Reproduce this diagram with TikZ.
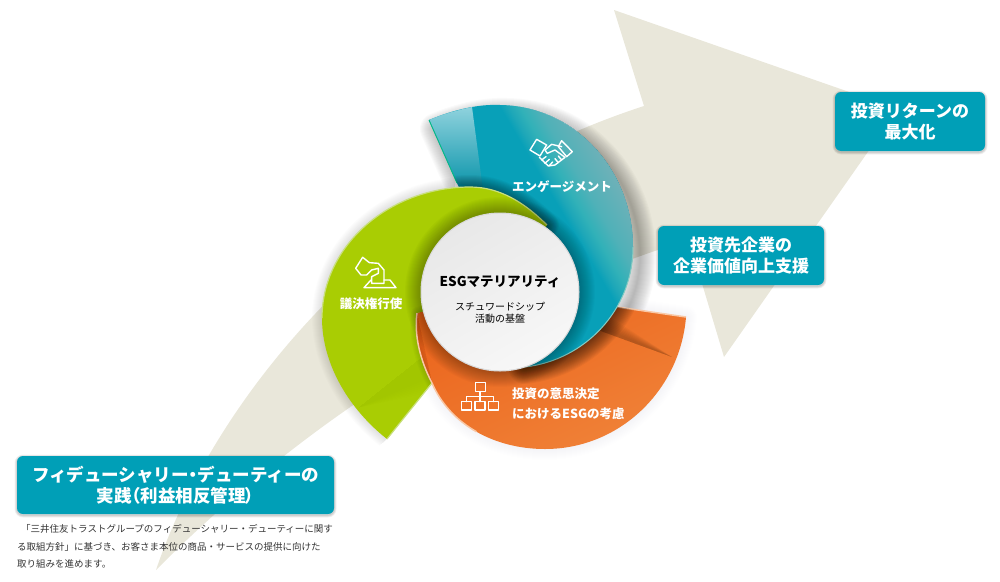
\documentclass[tikz,border=0pt]{standalone}
\usepackage{fontspec}
\setmainfont{Noto Sans CJK JP}
\definecolor{beige}{HTML}{E9E7DA}
\definecolor{boxteal}{HTML}{009FB7}
\definecolor{tealdark}{HTML}{08A0B8}
\definecolor{teallight}{HTML}{8FD2DD}
\definecolor{tealglow}{HTML}{B4E3EA}
\definecolor{greenmain}{HTML}{A9CD03}
\definecolor{greenrim}{HTML}{C9DF7E}
\definecolor{orangemain}{HTML}{EB641C}
\definecolor{orangelight}{HTML}{F08238}
\definecolor{orangerim}{HTML}{F9C8A6}
\definecolor{tealrim}{HTML}{86CBC2}
\definecolor{bodytext}{HTML}{333333}
\def\arrowpath{(614,10) -- (898,109) -- (724,357) -- (689,240) .. controls (540,285) and (340,385) .. (156,570) .. controls (210,410) and (370,195) .. (644,106) -- cycle}
\def\tealpath{(429,120) .. controls (455,109) and (480,104) .. (500,105) .. controls (575,106) and (633,170) .. (633,247) .. controls (633,310) and (585,360) .. (525,367) -- (500,292) -- (465,200) -- (457,183) -- cycle}
\def\greenpath{(547,225) .. controls (525,203) and (500,187) .. (470,187) .. controls (390,187) and (322,245) .. (322,318) .. controls (322,365) and (350,410) .. (387,439) -- (432,383) .. controls (420,360) and (414,335) .. (417,313) -- (500,292) -- cycle}
\def\orangepath{(686,317) .. controls (680,390) and (620,449) .. (545,449) .. controls (495,449) and (450,425) .. (432,383) .. controls (420,360) and (414,335) .. (417,313) -- (500,292) -- (560,300) -- (610,306) -- cycle}
\def\wedgepath{(429,120) .. controls (443,114) and (458,110) .. (472,107) -- (483,190) -- (457,183) -- cycle}
\newcommand\softshade[3]{\foreach \w in {2,4,...,#2}{\draw[line width=\w pt,#3,line join=round] #1;}}
\tikzset{
  capbox/.style={fill=boxteal,rounded corners=6pt,inner sep=0pt,text=white,align=center,font=\fontsize{17}{21.5}\selectfont\bfseries},
  seglabel/.style={text=white,inner sep=0pt,font=\fontsize{12.5}{20}\selectfont\bfseries},
  hublabel/.style={inner sep=0pt,text=black,align=center},
  noteline/.style={inner sep=0pt,anchor=west,text=bodytext,font=\fontsize{9.5}{12}\selectfont},
  iconline/.style={draw=white,line width=1.4pt,line join=round,line cap=round},
}
\begin{document}
\begin{tikzpicture}[x=1pt,y=-1pt]
\useasboundingbox (0,0) rectangle (1000,581);
% sweeping background arrow
\fill[beige] \arrowpath;
% shadows of the wheel on the background
\softshade{\orangepath}{22}{black!70!blue,opacity=.005}
\begin{scope}[shift={(7,9)}]
  \softshade{\tealpath}{32}{black,opacity=.02}
\end{scope}
% orange segment
\shade[left color=orangemain,middle color=orangemain,right color=orangelight,shading angle=25] \orangepath;
\draw[orangerim,line width=1.5pt] (610,306) -- (686,317);
\begin{scope}
  \clip \orangepath;
  \foreach \h in {2,4,...,16}{\fill[black,opacity=.03] (598,330) -- (672,357) -- (605,{330-\h}) -- cycle;}
  \softshade{\tealpath}{34}{black,opacity=.04}
\end{scope}
% teal segment: dark body brightening towards the upper right rim
\fill[tealdark] \tealpath;
\begin{scope}
  \clip \tealpath;
  \foreach \t in {372,373,...,432}{
    \fill[tealglow,opacity=.019]
      ({\t*.874-600},{-\t*.514-1020}) -- ({\t*.874+600},{-\t*.514+1020})
      -- ({\t*.874+1110},{-\t*.514+720}) -- ({\t*.874-90},{-\t*.514-1320}) -- cycle;
  }
\end{scope}
\shade[top color=teallight,bottom color=tealdark!92!black] \wedgepath;
\draw[tealrim,line width=1pt] (633,247) .. controls (633,310) and (585,360) .. (525,367);
\draw[tealdark!75!green,line width=1pt] (429,120) -- (457,183);
% green segment, falling over the teal one
\begin{scope}
  \clip \tealpath;
  \softshade{\greenpath}{24}{black,opacity=.035}
\end{scope}
\begin{scope}
  \clip (250,80) -- (455,80) -- (455,190) -- (417,313) -- (432,383) -- (387,439) -- (340,480) -- (250,480) -- cycle;
  \softshade{\greenpath}{20}{black,opacity=.012}
\end{scope}
\fill[greenmain] \greenpath;
\begin{scope}
  \clip \greenpath;
  \foreach \h in {2,4,...,14}{\fill[black,opacity=.005] (358,408) -- (422,357) -- ({428+\h},{376+\h}) -- cycle;}
  \softshade{\orangepath}{12}{black,opacity=.018}
\end{scope}
\draw[greenrim,line width=1.2pt] (547,225) .. controls (525,203) and (500,187) .. (470,187) .. controls (390,187) and (322,245) .. (322,318);
\draw[greenrim,line width=1.2pt] (387,439) -- (432,383);
% rim of the orange segment
\draw[orangerim,line width=1.5pt] (476.5,431.75) .. controls (456.75,420.5) and (441,404) .. (432,383) .. controls (420,360) and (414,335) .. (417,313);
% central disc
\foreach \r in {80,81,...,95}{\fill[black,opacity=.02] (500,292) circle (\r);}
\fill[black!15] (500,292) circle (79.5);
\shade[left color=black!9,right color=black!3,shading angle=30] (500,292) circle (78.3);
\node[hublabel,font=\fontsize{13.5}{16}\selectfont\bfseries] (hub) at (500,282) {ESGマテリアリティ};
\node[hublabel,font=\fontsize{10}{12.5}\selectfont] (hubsub) at (500,313) {スチュワードシップ\\活動の基盤};
% segment labels
\node[seglabel] (engage) at (562,187) {エンゲージメント};
\node[seglabel] (vote) at (371,304) {議決権行使};
\node[seglabel,anchor=west,align=left] (decide) at (512,404) {投資の意思決定\\におけるESGの考慮};
% icons
\begin{scope}[shift={(310,100)},x=.3333pt,y=-.3333pt]
  % handshake
  \draw[iconline] (660,150) -- (680,118) -- (710,135) -- (690,168) -- cycle;
  \draw[iconline] (755,122) -- (787,155) -- (770,170) -- (745,140) -- cycle;
  \draw[iconline] (755,140) -- (725,133) -- (705,150) -- (712,160) -- (735,150) -- (765,172) -- (735,195) -- (715,198) -- (688,172);
  \draw[iconline] (695,180) -- (708,170) (705,190) -- (718,178) (718,197) -- (728,186) (745,188) -- (735,176) (755,180) -- (745,168);
  % ballot hand
  \draw[iconline] (137,505) -- (158,472) -- (178,488) -- (205,490) -- (222,510) -- (222,550) -- (185,550) -- (185,530) -- (205,520) -- (205,505) -- (185,510) -- (170,525) -- (153,525) -- cycle;
  \draw[iconline] (183,540) -- (162,563) -- (258,563) -- (240,540) -- (222,540);
  % organisation chart
  \draw[iconline] (497,848) rectangle (527,875);
  \draw[iconline] (455,905) rectangle (485,930);
  \draw[iconline] (495,905) rectangle (525,930);
  \draw[iconline] (535,905) rectangle (565,930);
  \draw[iconline] (510,875) -- (510,905) (470,905) -- (470,890) -- (550,890) -- (550,905);
\end{scope}
% caption boxes
\foreach \bx/\by/\cx/\cy in {17/457/334/515,658/227/824/286,835/93/985/152}{
  \foreach \w in {1,2,...,5}{\draw[black,opacity=.045,line width=\w pt,rounded corners=6pt] (\bx,\by) rectangle (\cx,\cy);}
}
\node[capbox,minimum width=317pt,minimum height=58pt,font=\fontsize{17.5}{21.5}\selectfont\bfseries] (fid) at (175.5,485) {フィデューシャリー{\addfontfeature{RawFeature=+palt}・}デューティーの\\実践{\addfontfeature{RawFeature=+palt}（}利益相反管理{\addfontfeature{RawFeature=+palt}）}};
\node[capbox,minimum width=166pt,minimum height=59pt] (inv) at (741,255.5) {投資先企業の\\企業価値向上支援};
\node[capbox,minimum width=150pt,minimum height=59pt] (ret) at (910,121.5) {投資リターンの\\最大化};
% note
\node[noteline] (n1) at (21,528.5) {「三井住友トラストグループのフィデューシャリー・デューティーに関す};
\node[noteline] (n2) at (17,547) {る取組方針」に基づき、お客さま本位の商品・サービスの提供に向けた};
\node[noteline] (n3) at (17,563.5) {取り組みを進めます。};
\end{tikzpicture}
\end{document}
